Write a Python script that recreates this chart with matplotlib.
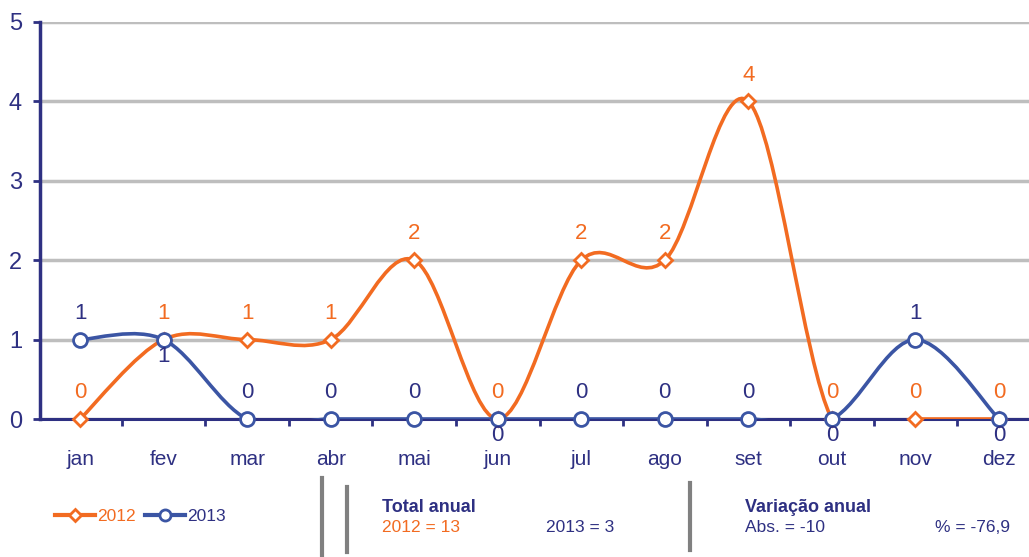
import matplotlib
matplotlib.use('Agg')
import matplotlib.pyplot as plt
from matplotlib.path import Path
from matplotlib.patches import PathPatch
from matplotlib.lines import Line2D

months = ['jan', 'fev', 'mar', 'abr', 'mai', 'jun', 'jul', 'ago', 'set', 'out', 'nov', 'dez']
v2012 = [0, 1, 1, 1, 2, 0, 2, 2, 4, 0, 0, 0]
v2013 = [1, 1, 0, 0, 0, 0, 0, 0, 0, 0, 1, 0]
# label placement for 2013 (True = below the point)
below2013 = [False, True, False, False, False, True, False, False, False, True, False, True]

ORANGE = '#F26B21'
BLUE = '#3B55A4'
NAVY = '#2E3082'
GRID = '#BEBEBE'
BAR = '#808080'

plt.rcParams['font.family'] = ['Liberation Sans', 'DejaVu Sans']


def smooth_path(ys):
    # Excel-like smoothed line: cubic Bezier segments with Catmull-Rom tangents
    xs = list(range(len(ys)))
    pts = list(zip(xs, ys))
    verts = [pts[0]]
    codes = [Path.MOVETO]
    n = len(pts)
    for i in range(n - 1):
        p0 = pts[i - 1] if i > 0 else pts[i]
        p1 = pts[i]
        p2 = pts[i + 1]
        p3 = pts[i + 2] if i + 2 < n else pts[i + 1]
        c1 = (p1[0] + (p2[0] - p0[0]) / 6, p1[1] + (p2[1] - p0[1]) / 6)
        c2 = (p2[0] - (p3[0] - p1[0]) / 6, p2[1] - (p3[1] - p1[1]) / 6)
        verts += [c1, c2, p2]
        codes += [Path.CURVE4] * 3
    return Path(verts, codes)


fig = plt.figure(figsize=(10.29, 5.57), dpi=100)
ax = fig.add_axes([40 / 1029, 138 / 557, 989 / 1029, 397 / 557])

x = list(range(len(months)))

# 2012
ax.add_patch(PathPatch(smooth_path(v2012), fill=False, edgecolor=ORANGE,
                       lw=2.6, zorder=3, capstyle='round'))
ax.plot(x, v2012, ls='none', marker='D', ms=7, mfc='white', mec=ORANGE,
        mew=2, zorder=4, clip_on=False)
# 2013
ax.add_patch(PathPatch(smooth_path(v2013), fill=False, edgecolor=BLUE,
                       lw=2.6, zorder=5, capstyle='round'))
ax.plot(x, v2013, ls='none', marker='o', ms=10, mfc='white', mec=BLUE,
        mew=2, zorder=6, clip_on=False)

for i, v in enumerate(v2012):
    ax.annotate(str(v), (i, v), xytext=(0, 19), textcoords='offset points',
                ha='center', va='center', color=ORANGE, fontsize=16,
                annotation_clip=False, zorder=7)
for i, v in enumerate(v2013):
    dy = -12 if below2013[i] else 19
    ax.annotate(str(v), (i, v), xytext=(0, dy), textcoords='offset points',
                ha='center', va='center', color=NAVY, fontsize=16,
                annotation_clip=False, zorder=7)

ax.set_yticks(range(6))
ax.set_xticks(x)
ax.set_xticklabels(months)
ax.set_xticks([i + 0.5 for i in range(-1, 12)], minor=True)
ax.set_xlim(-0.48, 11.36)
ax.set_ylim(0, 5)
ax.tick_params(axis='x', which='major', length=0, pad=22, labelsize=15, labelcolor=NAVY)
ax.tick_params(axis='x', which='minor', length=5, width=2, color=NAVY, direction='out')
ax.tick_params(axis='y', length=5, width=2, color=NAVY, labelsize=17, labelcolor=NAVY, pad=8)

ax.grid(axis='y', color=GRID, lw=2.5)
ax.set_axisbelow(True)
for s in ['top', 'right']:
    ax.spines[s].set_visible(False)
ax.spines['left'].set_color(NAVY)
ax.spines['left'].set_linewidth(2.5)
ax.spines['bottom'].set_color(NAVY)
ax.spines['bottom'].set_linewidth(2.2)

# legend
handles = [
    Line2D([], [], color=ORANGE, lw=3, marker='D', ms=6, mfc='white', mec=ORANGE, mew=2),
    Line2D([], [], color=BLUE, lw=3, marker='o', ms=8, mfc='white', mec=BLUE, mew=2),
]
leg = fig.legend(handles, ['2012', '2013'], loc='center left',
                 bbox_to_anchor=(55 / 1029, 1 - 516 / 557), ncol=2, frameon=False,
                 fontsize=12.5, handlelength=2.3, handletextpad=0.15,
                 columnspacing=0.5, borderpad=0, borderaxespad=0)
leg.get_texts()[0].set_color(ORANGE)
leg.get_texts()[1].set_color(NAVY)

# separators
for xp, y0, y1 in [(322, 478, 557), (347, 487, 552), (690, 483, 550)]:
    fig.add_artist(Line2D([xp / 1029, xp / 1029], [1 - y0 / 557, 1 - y1 / 557],
                          color=BAR, lw=3, transform=fig.transFigure))

# annual summary
fig.text(382 / 1029, 1 - 507 / 557, 'Total anual', color=NAVY, fontsize=13,
         fontweight='bold', va='center')
fig.text(382 / 1029, 1 - 527 / 557, '2012 = 13', color=ORANGE, fontsize=12.5, va='center')
fig.text(546 / 1029, 1 - 527 / 557, '2013 = 3', color=NAVY, fontsize=12.5, va='center')
fig.text(745 / 1029, 1 - 507 / 557, 'Variação anual', color=NAVY, fontsize=13,
         fontweight='bold', va='center')
fig.text(745 / 1029, 1 - 527 / 557, 'Abs. = -10', color=NAVY, fontsize=12.5, va='center')
fig.text(935 / 1029, 1 - 527 / 557, '% = -76,9', color=NAVY, fontsize=12.5, va='center')

fig.savefig('out.png', dpi=100)
